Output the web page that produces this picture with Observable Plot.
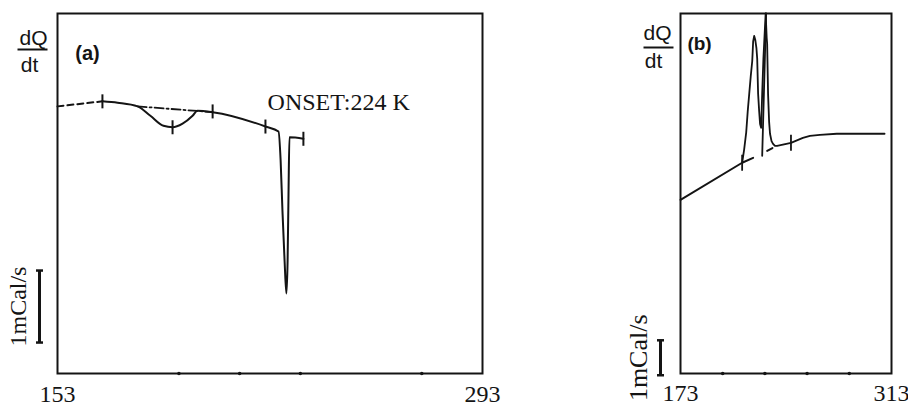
<!DOCTYPE html>
<html><head><meta charset="utf-8">
<script src="https://cdn.jsdelivr.net/npm/d3@7"></script>
<script src="https://cdn.jsdelivr.net/npm/@observablehq/plot@0.6"></script>
<style>
html,body{margin:0;padding:0;background:#fff;}
#wrap{position:relative;width:908px;height:408px;overflow:hidden;background:#fff;}
#pa{position:absolute;left:0;top:0;}
#pb{position:absolute;left:620px;top:0;}
</style></head><body>
<div id="wrap"><div id="pa"></div><div id="pb"></div></div>
<script>
// ---------- Panel (a) data: temperature (K) vs heat flow (mCal/s, offset) ----------
const aRangeT = [153, 293];
const aMinorTicks = [193, 213, 233, 273];
const aLeadT = [153, 167.8];
const aLeadQ = [3.71, 3.78];
const aCurveT = [167.8, 172.8, 179.4, 183.6, 187.9, 190.9, 194.2, 197.5, 199.1, 204.1, 221.5, 225.8, 226.5, 227.1, 227.8, 228.4, 228.8, 229.1, 229.4, 234.0];
const aCurveQ = [3.78, 3.76, 3.71, 3.58, 3.44, 3.42, 3.47, 3.58, 3.65, 3.63, 3.43, 3.36, 2.96, 2.26, 1.57, 1.11, 1.57, 2.50, 3.28, 3.26];
const aBaseT = [179.4, 204.1];
const aBaseQ = [3.71, 3.63];
const aMarkT = [167.8, 190.9, 204.1, 221.5, 234.0];
const aMarkQ = [3.78, 3.42, 3.64, 3.43, 3.26];
const aScaleBar = [0.43, 1.43];
const aOnset = {t: 222.2, q: 3.76, text: "ONSET:224 K"};

// ---------- Panel (b) data ----------
const bRangeT = [173, 313];
const bMinorTicks = [201, 229, 257, 285];
const bBaseT = [173, 213.9, 221.2];
const bBaseQ = [4.97, 6.03, 6.17];
const bCurveT = [213.9, 215.2, 216.6, 217.6, 218.6, 219.6, 220.6, 221.2, 221.9, 222.6, 223.4, 223.9, 224.5, 225.2, 225.8, 226.5, 227.2, 228.0, 228.5, 229.5, 230.2, 230.5, 231.1, 231.8, 232.4, 233.4, 234.4, 235.7, 237.1, 246.3, 254.2, 258.9, 265.5, 276.7, 308.4];
const bCurveQ = [6.03, 6.40, 6.90, 7.50, 8.00, 8.50, 8.94, 9.50, 9.66, 9.55, 9.30, 9.00, 8.00, 7.50, 7.14, 7.03, 8.00, 9.00, 9.43, 10.3, 9.60, 9.43, 8.00, 7.20, 6.86, 6.65, 6.57, 6.51, 6.51, 6.60, 6.74, 6.80, 6.83, 6.86, 6.86];
const bMarkerT = [229.8, 227.2];
const bMarkerQ = [10.3, 6.23];
const bDashT = [230.5, 234.4];
const bDashQ = [6.37, 6.46];
const bMarkT = [213.9, 246.3];
const bMarkQ = [6.03, 6.60];
const bScaleBar = [-0.05, 0.95];

// ---------- helpers ----------
const zip = (xs, ys) => xs.map((x, i) => ({t: x, q: ys[i]}));
const symV = {draw(ctx, size){const r = Math.sqrt(size / Math.PI); ctx.moveTo(0, -r); ctx.lineTo(0, r);}};
const symH = {draw(ctx, size){const r = Math.sqrt(size / Math.PI); ctx.moveTo(-r, 0); ctx.lineTo(r, 0);}};
const INK = "#141414";
const SANS = "'Liberation Sans', Arial, sans-serif";
const SERIF = "'Liberation Serif', 'Times New Roman', serif";

function dqdt(dxTop, dyTop, dxDt, dyDt, dyLine, dxLine) {
  return [
    Plot.text(["dQ"], {text: d => d, frameAnchor: "top-left", dx: dxTop, dy: dyTop, fontFamily: SANS, fontSize: 21, textAnchor: "middle", lineAnchor: "middle", fill: INK}),
    Plot.dot([0], {frameAnchor: "top-left", dx: dxLine, dy: dyLine, symbol: symH, r: 15, stroke: INK, strokeWidth: 2, fill: "none"}),
    Plot.text(["dt"], {text: d => d, frameAnchor: "top-left", dx: dxDt, dy: dyDt, fontFamily: SANS, fontSize: 21, textAnchor: "middle", lineAnchor: "middle", fill: INK})
  ];
}

function scaleBar(x0, bar, dxBar, dxText, fs) {
  return [
    Plot.ruleX([bar], {x: () => x0, y1: d => d[0], y2: d => d[1], dx: dxBar, stroke: INK, strokeWidth: 3}),
    Plot.dot(bar, {x: () => x0, y: d => d, dx: dxBar, symbol: symH, r: 3.5, stroke: INK, strokeWidth: 2.5, fill: "none"}),
    Plot.text([bar], {x: () => x0, y: d => (d[0] + d[1]) / 2, dx: dxText, text: () => "1mCal/s", rotate: -90, fontFamily: SERIF, fontSize: fs, textAnchor: "middle", lineAnchor: "middle", fill: INK})
  ];
}

// ---------- Panel (a) ----------
const plotA = Plot.plot({
  width: 500, height: 408,
  marginLeft: 57, marginRight: 18, marginTop: 13, marginBottom: 35,
  x: {domain: aRangeT, label: null},
  y: {domain: [0, 5], axis: null, label: null},
  style: {fontFamily: SERIF, fontSize: "20px", color: INK, background: "transparent", overflow: "visible"},
  marks: [
    Plot.frame({stroke: INK, strokeWidth: 2}),
    Plot.axisX(aRangeT, {tickSize: 0, tickPadding: 11, fontSize: 24, fontFamily: SERIF, tickFormat: d => String(d)}),
    Plot.dot(aMinorTicks, {x: d => d, frameAnchor: "bottom", r: 1.8, fill: INK}),
    Plot.line(zip(aLeadT, aLeadQ), {x: "t", y: "q", stroke: INK, strokeWidth: 2, strokeDasharray: "6,4"}),
    Plot.line(zip(aBaseT, aBaseQ), {x: "t", y: "q", stroke: INK, strokeWidth: 1.8, strokeDasharray: "9,3,2,3"}),
    Plot.line(zip(aCurveT, aCurveQ), {x: "t", y: "q", stroke: INK, strokeWidth: 2, curve: "monotone-x"}),
    Plot.dot(zip(aMarkT, aMarkQ), {x: "t", y: "q", symbol: symV, r: 7, stroke: INK, strokeWidth: 2, fill: "none"}),
    Plot.text([aOnset], {x: "t", y: "q", text: "text", textAnchor: "start", lineAnchor: "middle", fontFamily: SERIF, fontSize: 24, fill: INK}),
    ...dqdt(-24, 25, -28, 52, 36, -25),
    Plot.text(["(a)"], {text: d => d, frameAnchor: "top-left", dx: 30, dy: 40, fontFamily: SANS, fontWeight: "bold", fontSize: 20, textAnchor: "middle", lineAnchor: "middle", fill: INK}),
    ...scaleBar(aRangeT[0], aScaleBar, -18, -39, 24)
  ]
});
document.getElementById("pa").appendChild(plotA);

// ---------- Panel (b) ----------
const plotB = Plot.plot({
  width: 288, height: 408,
  marginLeft: 60, marginRight: 17, marginTop: 13, marginBottom: 35,
  x: {domain: bRangeT, label: null},
  y: {domain: [0, 10.3], axis: null, label: null},
  style: {fontFamily: SERIF, fontSize: "20px", color: INK, background: "transparent", overflow: "visible"},
  marks: [
    Plot.frame({stroke: INK, strokeWidth: 2}),
    Plot.axisX(bRangeT, {tickSize: 0, tickPadding: 10, fontSize: 24, fontFamily: SERIF, tickFormat: d => String(d)}),
    Plot.dot(bMinorTicks, {x: d => d, frameAnchor: "bottom", r: 1.8, fill: INK}),
    Plot.line(zip(bBaseT, bBaseQ), {x: "t", y: "q", stroke: INK, strokeWidth: 2}),
    Plot.line(zip(bDashT, bDashQ), {x: "t", y: "q", stroke: INK, strokeWidth: 2, strokeDasharray: "6,4"}),
    Plot.line(zip(bCurveT, bCurveQ), {x: "t", y: "q", stroke: INK, strokeWidth: 1.8}),
    Plot.line(zip(bMarkerT, bMarkerQ), {x: "t", y: "q", stroke: INK, strokeWidth: 1.8}),
    Plot.dot(zip(bMarkT, bMarkQ), {x: "t", y: "q", symbol: symV, r: 8, stroke: INK, strokeWidth: 1.8, fill: "none"}),
    ...dqdt(-23, 20, -27, 48, 34, -22),
    Plot.text(["(b)"], {text: d => d, frameAnchor: "top-left", dx: 19, dy: 30, fontFamily: SANS, fontWeight: "bold", fontSize: 19, textAnchor: "middle", lineAnchor: "middle", fill: INK}),
    ...scaleBar(bRangeT[0], bScaleBar, -20, -42, 26)
  ]
});
document.getElementById("pb").appendChild(plotB);
</script>
</body></html>
